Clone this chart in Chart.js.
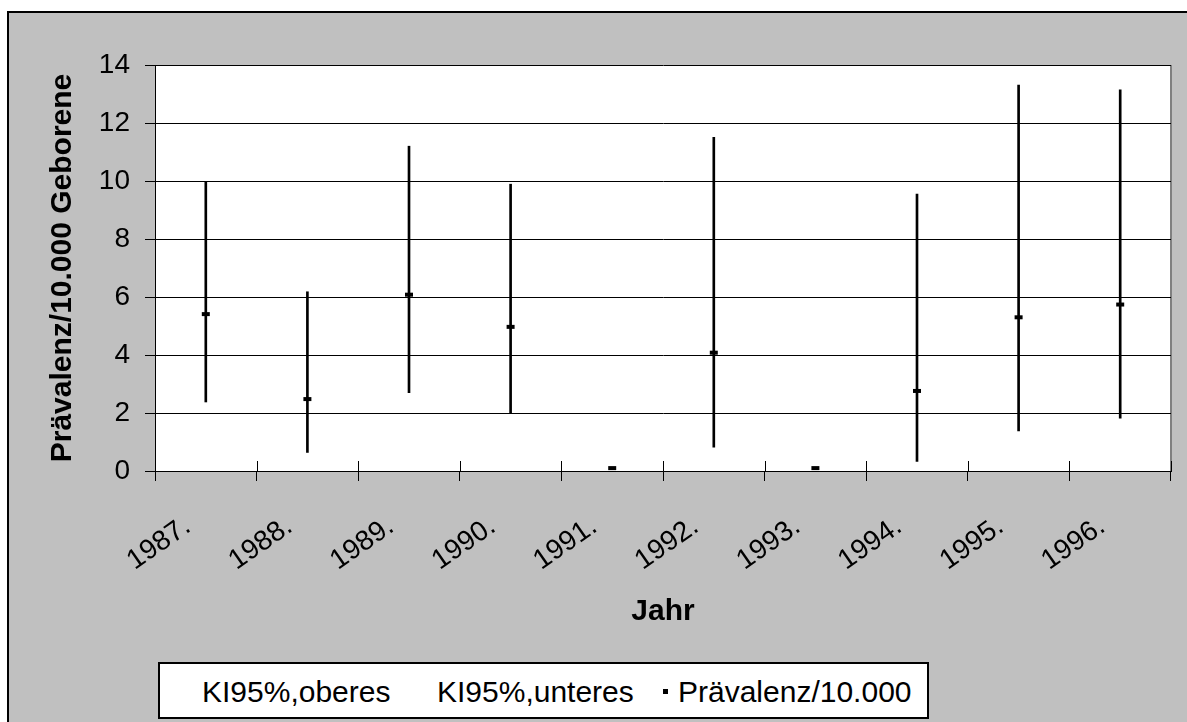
<!DOCTYPE html>
<html>
<head>
<meta charset="utf-8">
<script src="https://cdn.jsdelivr.net/npm/chart.js@4.4.0/dist/chart.umd.min.js"></script>
<style>
  html, body { margin:0; padding:0; }
  body { width:1187px; height:722px; overflow:hidden; background:#fff; position:relative;
         font-family:"Liberation Sans", Arial, sans-serif; }
  #frame { position:absolute; left:7px; top:11px; width:1250px; height:800px; background:#c0c0c0;
           border-left:2px solid #000; border-top:2px solid #000; }
  #wrap { position:absolute; left:0; top:0; width:1187px; height:722px; }
  #legend { position:absolute; left:158px; top:662px; width:771px; height:57px; background:#fff;
            border:2px solid #000; box-sizing:border-box; }
  #legend .item { position:absolute; top:1px; height:53px; display:flex; align-items:center;
                  font-size:30px; color:#000; white-space:nowrap; }
  #legend .mk { display:inline-block; width:5px; height:5px; background:#000; margin-right:10px; }
</style>
</head>
<body>
<div id="frame"></div>
<div id="wrap"><canvas id="c"></canvas></div>
<div id="legend"></div>
<script>
// ---- data ----
const years = ['1987.', '1988.', '1989.', '1990.', '1991.', '1992.', '1993.', '1994.', '1995.', '1996.'];
const prevalence = [5.41, 2.48, 6.08, 4.97, 0.1, 4.08, 0.1, 2.76, 5.30, 5.74];
const ciUpper = [9.97, 6.18, 11.2, 9.89, null, 11.51, null, 9.55, 13.31, 13.14];
const ciLower = [2.38, 0.64, 2.70, 1.98, null, 0.82, null, 0.33, 1.38, 1.82];
const yTicks = [0, 2, 4, 6, 8, 10, 12, 14];
const seriesNames = ['KI95%,oberes', 'KI95%,unteres', 'Prävalenz/10.000'];
const xTitle = 'Jahr';
const yTitle = 'Prävalenz/10.000 Geborene';

const FONT = '"Liberation Sans", Arial, sans-serif';
const hiLo = ciUpper.map((u, i) => (u == null || ciLower[i] == null) ? null : [ciLower[i], u]);

const plotPlugin = {
  id: 'plotDeco',
  beforeDraw(chart) {
    const {ctx, chartArea: a} = chart;
    ctx.save();
    ctx.fillStyle = '#fff';
    ctx.fillRect(a.left, a.top, a.right - a.left, a.bottom - a.top);
    ctx.strokeStyle = '#808080';
    ctx.lineWidth = 2;
    ctx.beginPath();
    ctx.moveTo(a.right, a.top); ctx.lineTo(a.right, a.bottom);
    ctx.stroke();
    ctx.restore();
  },
  afterDatasetsDraw(chart) {
    const {ctx, chartArea: a} = chart;
    const xs = chart.scales.x;
    ctx.save();
    ctx.strokeStyle = '#000';
    ctx.lineWidth = 1;
    for (let i = 0; i <= years.length; i++) {
      const x = Math.round(xs.getPixelForValue(i - 0.5)) + 0.5;
      ctx.beginPath();
      ctx.moveTo(x, a.bottom - 10);
      ctx.lineTo(x, a.bottom);
      ctx.stroke();
    }
    ctx.restore();
  }
};

new Chart(document.getElementById('c'), {
  type: 'bar',
  data: {
    labels: years,
    datasets: [
      { type: 'bar', label: 'hilo', data: hiLo, backgroundColor: '#000', borderWidth: 0,
        barThickness: 2, order: 3 },
      { type: 'line', label: seriesNames[0], data: ciUpper, showLine: false, pointRadius: 0, order: 2 },
      { type: 'line', label: seriesNames[1], data: ciLower, showLine: false, pointRadius: 0, order: 2 },
      { type: 'line', label: seriesNames[2], data: prevalence, showLine: false,
        pointStyle: 'line', pointRadius: 4, pointBorderWidth: 4, borderColor: '#000',
        backgroundColor: '#000', pointHoverRadius: 4, order: 0 }
    ]
  },
  options: {
    responsive: true,
    maintainAspectRatio: false,
    animation: false,
    layout: { padding: { left: 0, top: 65, right: 16, bottom: 0 } },
    plugins: { legend: { display: false }, tooltip: { enabled: false } },
    scales: {
      x: {
        offset: true,
        grid: { display: true, offset: true, drawOnChartArea: false, drawTicks: true,
                tickLength: 10, color: '#000', lineWidth: 1 },
        border: { display: true, color: '#000', width: 1 },
        ticks: { color: '#000', font: { family: FONT, size: 28 }, minRotation: 35, maxRotation: 35,
                 padding: 29, labelOffset: -18, autoSkip: false },
        title: { display: true, text: xTitle, color: '#000',
                 font: { family: FONT, size: 30, weight: 'bold' }, padding: { top: 0, bottom: 92 } },
        afterFit(s) { s.height = 251; }
      },
      y: {
        min: 0, max: 14,
        afterBuildTicks(s) { s.ticks = yTicks.map(v => ({ value: v })); },
        grid: { color: '#000', lineWidth: 1, tickLength: 10, drawTicks: true },
        border: { display: true, color: '#000', width: 1 },
        ticks: { color: '#000', font: { family: FONT, size: 28 }, padding: 15 },
        title: { display: true, text: yTitle, color: '#000',
                 font: { family: FONT, size: 30, weight: 'bold' }, padding: { top: 45, bottom: 0 } },
        afterFit(s) { s.width = 155; }
      }
    }
  },
  plugins: [plotPlugin]
});

// HTML legend built from series names
const legend = document.getElementById('legend');
const legendLefts = [42, 277, 503];
seriesNames.forEach((name, i) => {
  const it = document.createElement('div');
  it.className = 'item';
  it.style.left = legendLefts[i] + 'px';
  if (i === 2) {
    const mk = document.createElement('span');
    mk.className = 'mk';
    it.appendChild(mk);
  }
  const t = document.createElement('span');
  t.textContent = name;
  it.appendChild(t);
  legend.appendChild(it);
});
</script>
</body>
</html>
